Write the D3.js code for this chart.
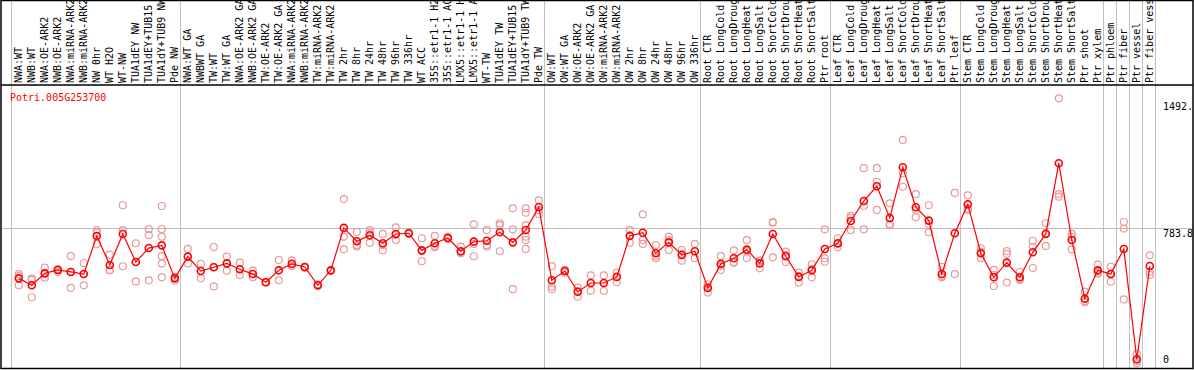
<!DOCTYPE html>
<html>
<head>
<meta charset="utf-8">
<script src="https://cdn.jsdelivr.net/npm/d3@7"></script>
<style>
    body { margin: 0; background: white; }
    text { font-family: "DejaVu Sans Mono", monospace; font-size: 10px; }
</style>
</head>
<body>
<svg id="chart" width="1194" height="370"></svg>
<script>
let geneName = "Potri.005G253700";

let samples = [
    "NWA:WT", "NWB:WT", "NWA:OE-ARK2", "NWB:OE-ARK2", "NWA:miRNA-ARK2", "NWB:miRNA-ARK2",
    "NW 0hr", "WT H2O", "WT-NW", "TUA1dEY NW", "TUA1dEY+TUB15 NW", "TUA1dY+TUB9 NW", "Pde NW",
    "NWA:WT GA", "NWBWT GA", "TW:WT", "TW:WT GA", "NWA:OE-ARK2 GA", "NWB:OE-ARK2 GA",
    "TW:OE-ARK2", "TW:OE-ARK2 GA", "NWA:miRNA-ARK2", "NWB:miRNA-ARK2", "TW:miRNA-ARK2", "TW:miRNA-ARK2",
    "TW 2hr", "TW 8hr", "TW 24hr", "TW 48hr", "TW 96hr", "TW 336hr", "WT ACC",
    "35S::etr1-1 H2O", "35S::etr1-1 ACC", "LMX5::etr1-1 H2O", "LMX5::etr1-1 ACC",
    "WT-TW", "TUA1dEY TW", "TUA1dEY+TUB15 TW", "TUA1dY+TUB9 TW", "Pde TW",
    "OW:WT", "OW:WT GA", "OW:OE-ARK2", "OW:OE-ARK2 GA", "OW:miRNA-ARK2", "OW:miRNA-ARK2",
    "OW 2hr", "OW 8hr", "OW 24hr", "OW 48hr", "OW 96hr", "OW 336hr",
    "Root CTR", "Root LongCold", "Root LongDrought", "Root LongHeat", "Root LongSalt",
    "Root ShortCold", "Root ShortDrought", "Root ShortHeat", "Root ShortSalt", "Ptr root",
    "Leaf CTR", "Leaf LongCold", "Leaf LongDrought", "Leaf LongHeat", "Leaf LongSalt",
    "Leaf ShortCold", "Leaf ShortDrought", "Leaf ShortHeat", "Leaf ShortSalt", "Ptr leaf",
    "Stem CTR", "Stem LongCold", "Stem LongDrought", "Stem LongHeat", "Stem LongSalt",
    "Stem ShortCold", "Stem ShortDrought", "Stem ShortHeat", "Stem ShortSalt", "Ptr shoot", "Ptr xylem",
    "Ptr phloem", "Ptr fiber", "Ptr vessel", "Ptr fiber vessel"
];

// index of the first sample of each group (plus the end)
let groupStarts = [0, 13, 41, 53, 63, 73, 84, 85, 86, 87, 88];

let means = [
    503, 464, 531, 550, 539, 527, 741, 578, 752, 595, 673, 688, 503,
    625, 544, 565, 587, 554, 527, 481, 548, 584, 567, 464, 548, 786, 711, 745,
    700, 752, 756, 660, 700, 729, 655, 709, 714, 762, 705, 774, 903,
    492, 544, 428, 477, 477, 511, 741, 759, 644, 705, 634, 655,
    449, 584, 616, 664, 587, 752, 627, 511, 548, 668,
    700, 825, 937, 1020, 842, 1126, 902, 827, 527, 756,
    918, 644, 509, 591, 509, 649, 752, 1149, 718, 389, 548,
    527, 668, 49, 572
];

let replicates = [
    [527, 464, 515], [501, 397, 494], [563, 507, 533], [554, 539, 555], [628, 449, 539],
    [589, 464, 527], [774, 759, 696], [636, 548, 550], [913, 774, 571], [700, 486],
    [780, 745, 492], [909, 780, 737, 628, 587, 509], [490, 511],
    [668, 587], [585, 503], [679, 458, 567], [625, 546], [591, 522], [548, 509],
    [481, 483], [606, 492], [604, 572], [567, 561], [470, 460], [548, 544],
    [948, 737, 666], [763, 688, 682], [774, 703, 757], [752, 660, 690], [789, 718, 746],
    [759, 752], [728, 599, 656], [741, 677, 685], [737, 724], [681, 644, 651],
    [806, 627, 696], [774, 681, 690], [812, 655, 802], [896, 778, 442],
    [896, 871, 802, 737, 718, 668], [941, 864, 886],
    [572, 456, 442], [535, 550], [400, 451, 432], [520, 434], [520, 432], [535, 481],
    [774, 703, 746], [862, 718, 696], [690, 616, 628], [737, 662, 718], [662, 602, 640], [696, 616],
    [470, 423, 454], [628, 550, 572], [660, 591, 595], [718, 617, 656], [602, 559, 600],
    [815, 621, 819], [653, 595, 634], [535, 479, 516], [582, 509, 555], [778, 616, 596],
    [728, 677, 696], [853, 774, 842], [1121, 909, 778], [1121, 1045, 887], [924, 801, 808],
    [1279, 1092, 1017], [975, 846, 887], [913, 761, 808], [568, 509, 516], [982, 527],
    [969, 894, 887], [672, 616, 651], [550, 460, 522], [656, 479, 640], [540, 494, 499],
    [714, 561, 679], [812, 757, 685], [1513, 976, 961], [752, 666, 735], [428, 369, 376],
    [580, 539, 529], [568, 484, 527], [819, 782, 385], [79, 26, 39], [632, 540, 522]
];

let axisValues = [1492.4, 783.8, 0];
let axisLabels = ["1492.", "783.8", "0"];

class ExpressionChart {
    constructor() {
        this.svg = d3.select("#chart");
        this.left = 1;
        this.right = 1193;
        this.top = 0;
        this.headerBottom = 85;
        this.bottom = 368;

        this.x = d3.scaleBand()
            .domain(d3.range(samples.length))
            .range([11, 11 + 13 * samples.length]);

        this.y = d3.scaleLinear()
            .domain([0, 1492.4])
            .range([this.bottom, 102]);

        this.DrawGrid();
        this.DrawLabels();
        this.DrawPoints();
        this.DrawFrame();
    }

    px(i) {
        return this.x(i) + this.x.bandwidth() * 0.6;
    }

    DrawGrid() {
        let grid = this.svg.append("g");

        grid.selectAll("line.v")
            .data(groupStarts)
            .join("line")
            .attr("class", "v")
            .attr("x1", d => this.x(0) + d * this.x.step())
            .attr("x2", d => this.x(0) + d * this.x.step())
            .attr("y1", this.top)
            .attr("y2", this.bottom)
            .attr("stroke", "#c0c0c0")
            .attr("stroke-width", 1)
            .attr("shape-rendering", "crispEdges");

        grid.append("line")
            .attr("x1", this.left)
            .attr("x2", this.right)
            .attr("y1", this.y(783.8))
            .attr("y2", this.y(783.8))
            .attr("stroke", "#c0c0c0")
            .attr("stroke-width", 1)
            .attr("shape-rendering", "crispEdges");
    }

    DrawLabels() {
        this.svg.append("g")
            .selectAll("text")
            .data(samples)
            .join("text")
            .text(d => d)
            .attr("transform", (d, i) => "translate(" + this.px(i) + "," + (this.headerBottom - 2) + ") rotate(-90)")
            .attr("dominant-baseline", "central")
            .attr("fill", "black");

        this.svg.append("text")
            .text(geneName)
            .attr("x", 10)
            .attr("y", 97)
            .attr("dominant-baseline", "central")
            .attr("fill", "red");

        this.svg.append("g")
            .selectAll("text")
            .data(axisValues)
            .join("text")
            .text((d, i) => axisLabels[i])
            .attr("x", 1163)
            .attr("y", d => Math.min(this.y(d) + 1, this.bottom - 12))
            .attr("dominant-baseline", "hanging")
            .attr("fill", "black");
    }

    DrawPoints() {
        let reps = [];
        replicates.forEach((list, i) => list.forEach(v => reps.push({ i: i, v: v })));

        this.svg.append("g")
            .selectAll("circle")
            .data(reps)
            .join("circle")
            .attr("cx", d => this.px(d.i))
            .attr("cy", d => this.y(d.v))
            .attr("r", 3.5)
            .attr("fill", "none")
            .attr("stroke", "#e99a9a")
            .attr("stroke-width", 1.2);

        let line = d3.line()
            .x((d, i) => this.px(i))
            .y(d => this.y(d));

        this.svg.append("path")
            .datum(means)
            .attr("d", line)
            .attr("fill", "none")
            .attr("stroke", "red")
            .attr("stroke-width", 1.2);

        this.svg.append("g")
            .selectAll("circle")
            .data(means)
            .join("circle")
            .attr("cx", (d, i) => this.px(i))
            .attr("cy", d => this.y(d))
            .attr("r", 3.5)
            .attr("fill", "none")
            .attr("stroke", "red")
            .attr("stroke-width", 1.6);
    }

    DrawFrame() {
        this.svg.append("rect")
            .attr("x", this.left)
            .attr("y", this.top + 0.5)
            .attr("width", this.right - this.left)
            .attr("height", this.bottom - this.top)
            .attr("fill", "none")
            .attr("stroke", "black")
            .attr("stroke-width", 1.5);

        this.svg.append("line")
            .attr("x1", this.left)
            .attr("x2", this.right)
            .attr("y1", this.headerBottom)
            .attr("y2", this.headerBottom)
            .attr("stroke", "black")
            .attr("stroke-width", 1.5);
    }
}

new ExpressionChart();
</script>
</body>
</html>
